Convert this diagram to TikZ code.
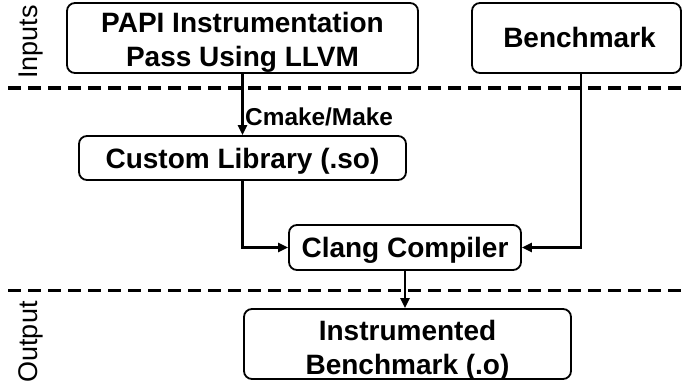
\documentclass[tikz,border=0pt]{standalone}
\usepackage{fontspec}
\setmainfont{Liberation Sans}
\usetikzlibrary{arrows.meta}
\begin{document}
\begin{tikzpicture}[x=1pt,y=-1pt,
  box/.style={draw, line width=1.8pt, rounded corners=8pt, inner sep=0pt,
    font=\bfseries\fontsize{28}{34}\selectfont, align=center},
  onebox/.style={box, text height=20pt, text depth=0pt},
  twobox/.style={box, text height=22pt, text depth=32pt},
  arr/.style={line width=2.2pt, -{Triangle[length=10pt,width=9pt]}},
  sepline/.style={line width=3.8pt, dash pattern=on 13pt off 7pt},
  side/.style={rotate=90, anchor=base, font=\fontsize{27}{30}\selectfont}]
\useasboundingbox (0,0) rectangle (682,385);
% boxes
\node[twobox, minimum width=351pt, minimum height=70pt] (papi) at (242.5,38)
  {\begin{tabular}[t]{@{}c@{}}PAPI Instrumentation\\Pass Using LLVM\end{tabular}};
\node[onebox, minimum width=209pt, minimum height=70pt] (bench) at (576.5,38) {\hspace*{6pt}Benchmark};
\node[onebox, minimum width=327pt, minimum height=44pt] (custom) at (242.5,158) {Custom Library (.so)};
\node[onebox, minimum width=232pt, minimum height=45pt] (clang) at (405,247.5) {Clang Compiler};
\node[twobox, text height=23pt, text depth=31pt, minimum width=327pt, minimum height=70pt] (instr) at (407.5,344)
  {\begin{tabular}[t]{@{}c@{}}Instrumented\\Benchmark (.o)\end{tabular}};
% side labels
\node[side] (inputs) at (37,42) {Inputs};
\node[side] (output) at (37,342) {Output};
% separators
\coordinate (s1a) at (8,88);  \coordinate (s1b) at (682,88);
\coordinate (s2a) at (8,290.5); \coordinate (s2b) at (682,290.5);
\draw[sepline] (s1a) -- (s1b);
\draw[sepline] (s2a) -- (s2b);
% connectors
\draw[arr] (papi.south) -- (custom.north);
\node[anchor=west, inner sep=0pt, text height=17.4pt, text depth=0pt,
  font=\bfseries\fontsize{24.4}{28}\selectfont] (cmake) at (245,116.7) {Cmake/Make};
\draw[arr] (custom.south) |- (clang.west);
\coordinate (bs) at ([xshift=4.5pt]bench.south);
\draw[arr] (bs) |- (clang.east);
\draw[arr] (clang.south) -- (clang.south |- instr.north);
\end{tikzpicture}
\end{document}
